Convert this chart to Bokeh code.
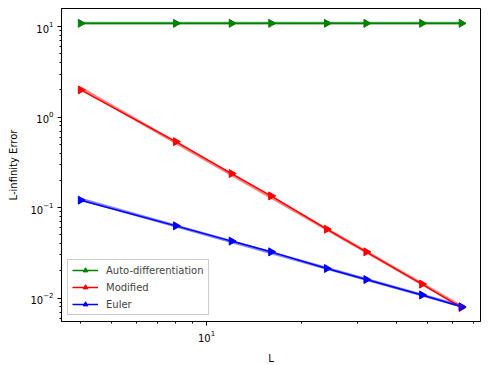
import numpy as np
from bokeh.plotting import figure
from bokeh.models import FixedTicker, LogTickFormatter, Range1d, Legend, LegendItem
from bokeh.embed import file_html
from bokeh.resources import INLINE

L_values = [4, 8, 12, 16, 24, 32, 48, 64]
err_autodiff = [10.9, 10.9, 10.9, 10.9, 10.9, 10.9, 10.9, 10.9]
err_modified = [2.0, 0.536, 0.238, 0.1346, 0.0577, 0.0324, 0.01426, 0.00785]
err_euler = [0.1208, 0.0628, 0.0426, 0.0324, 0.0212, 0.0160, 0.0108, 0.0080]

series_names = ["Auto-differentiation", "Modified", "Euler"]
series_colors = ["#008000", "#ff0000", "#0000ff"]

x_major = [10]
x_minor = [4, 5, 6, 7, 8, 9, 20, 30, 40, 50, 60, 70]
y_major = [0.01, 0.1, 1, 10]
y_minor = [m * d for d in [0.001, 0.01, 0.1, 1, 10] for m in range(2, 10)]

FONT = "DejaVu Sans"

p = figure(
    x_axis_type="log", y_axis_type="log",
    output_backend="svg", toolbar_location=None,
    frame_width=419, frame_height=313,
    min_border_left=61, min_border_right=6, min_border_top=8, min_border_bottom=40,
    x_range=Range1d(3.48, 73.5), y_range=Range1d(0.0055, 15.9),
)
p.grid.visible = False
p.outline_line_color = "black"
p.outline_line_width = 1

for ax, maj, mnr in [(p.xaxis[0], x_major, x_minor), (p.yaxis[0], y_major, y_minor)]:
    ax.ticker = FixedTicker(ticks=maj, minor_ticks=mnr)
    ax.formatter = LogTickFormatter()
    ax.major_tick_in = 0
    ax.major_tick_out = 4
    ax.minor_tick_in = 0
    ax.minor_tick_out = 2
    ax.major_label_text_font = FONT
    ax.major_label_text_font_size = "10px"
    ax.major_label_text_color = "black"
    ax.axis_label_text_font = FONT
    ax.axis_label_text_font_size = "10px"
    ax.axis_label_text_font_style = "normal"
    ax.axis_label_text_color = "black"
    ax.axis_line_color = "black"
    ax.major_tick_line_color = "black"
    ax.minor_tick_line_color = "black"
    ax.major_label_standoff = 4

p.xaxis.axis_label = "L"
p.yaxis.axis_label = "L-infinity Error"
p.xaxis.axis_label_standoff = 8
p.yaxis.axis_label_standoff = 8

items = []
for name, ys, col in zip(series_names, [err_autodiff, err_modified, err_euler], series_colors):
    ln = p.line(L_values, ys, line_color=col, line_width=1.5)
    mk = p.scatter(L_values, ys, marker="triangle", angle=-np.pi / 2, size=8,
                   fill_color=col, line_color=col)
    items.append(LegendItem(label=name, renderers=[ln, mk]))

for ys, col in zip([err_autodiff, err_modified, err_euler], series_colors):
    lx = np.log10(L_values)
    ly = np.log10(ys)
    k, b = np.polyfit(lx, ly, 1)
    fx = [L_values[0], L_values[-1]]
    fy = [10 ** (b + k * np.log10(v)) for v in fx]
    p.line(fx, fy, line_color=col, line_width=3, line_alpha=0.5)

legend = Legend(items=items, location="bottom_left", margin=6,
                padding=4, spacing=5, glyph_width=26, glyph_height=12,
                label_height=12, label_standoff=8,
                label_text_font=FONT, label_text_font_size="10px",
                border_line_color="#cccccc", border_line_alpha=1.0,
                background_fill_alpha=0.8)
p.add_layout(legend)

open("out.html", "w").write(file_html(p, INLINE))
